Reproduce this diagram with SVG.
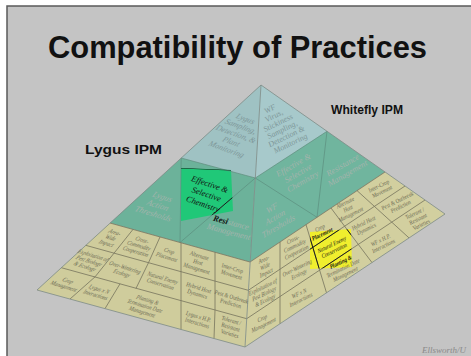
<svg xmlns="http://www.w3.org/2000/svg" width="471" height="356" viewBox="0 0 471 356">
<defs>
<style>
.slide{fill:#c4c4c4;stroke:#5a5a5a;stroke-width:1.5}
.hd{font-family:"Liberation Sans","DejaVu Sans",sans-serif;font-weight:bold;fill:#111}
.lbl{font-family:"Liberation Serif","Times New Roman",serif;font-style:italic;text-anchor:middle}
.ty{font-size:6.3px;fill:#6a6852}
.tg{font-size:8.5px;fill:#a2b4ac}
.tb{font-size:8px;fill:#7e9799}
.tk{fill:#111}
.bl{fill:#9fc2c3}.br{fill:#a7c9cb}
.gl{fill:#6cb29a}.gr{fill:#70b59e}
.yl{fill:#cfcc9c}.yr{fill:#d2cf9f}
.gridY{fill:none;stroke:#76745d;stroke-width:0.8}
.gridG{fill:none;stroke:#5c8e7e;stroke-width:0.7}
.edge{fill:none;stroke:#7d8c86;stroke-width:0.8}
.ink{fill:none;stroke:#111;stroke-width:0.9}
.credit{font-family:"Liberation Serif",serif;font-style:italic;font-size:9px;fill:#8a8a8a}
</style>
<clipPath id="clipHiG"><polygon points="181,168 231,170 233,211 181,221"/></clipPath>
<clipPath id="clipHiY"><polygon points="310,232 351,229 352,267 310,269"/></clipPath>
</defs>

<!-- slide -->
<rect x="0" y="0" width="471" height="356" fill="#ffffff"/>
<rect class="slide" x="7" y="6" width="470" height="360"/>

<!-- headings -->
<g id="title"><text class="hd" x="48" y="58" font-size="32" textLength="379" lengthAdjust="spacingAndGlyphs">Compatibility of Practices</text></g>
<g id="lygus-ipm"><text class="hd" x="85" y="153.5" font-size="13" textLength="77" lengthAdjust="spacingAndGlyphs">Lygus IPM</text></g>
<g id="whitefly-ipm"><text class="hd" x="331" y="114" font-size="12.5" textLength="72" lengthAdjust="spacingAndGlyphs">Whitefly IPM</text></g>

<!-- pyramid faces -->
<g id="faces">
<polygon class="bl" points="261,85 181.2,158 255.3,178"/>
<polygon class="br" points="261,85 255.3,178 327,131.3"/>
<polygon class="gl" points="181.2,158 255.3,178 250,262 110,223"/>
<polygon class="gr" points="255.3,178 327,131.3 385,172 250,262"/>
<polygon class="yl" points="110,223 250,262 245,347 37,290"/>
<polygon class="yr" points="250,262 385,172 445,214 245,347"/>
<!-- highlight patches -->
<polygon fill="#20c878" points="181,168 231,170 233,211 181,221"/>
<polygon fill="#f0ee2e" points="310,232 351,229 352,267 310,269"/>
</g>

<!-- dividing lines -->
<g id="connectors">
<g class="gridG">
<path d="M181.2,158 L180,242.5 M255.3,178 L180,242.5"/>
<path d="M327,131.3 L317,217.3 M255.3,178 L317,217.3"/>
<path d="M181.2,158 L255.3,178 L327,131.3"/>
</g>
<g class="gridY">
<path d="M110,223 L250,262 L385,172"/>
<path d="M85.7,245.3 L248.3,290.3 M61.3,267.7 L246.7,318.7"/>
<path d="M133,229.4 L114,253.2 L95,276.9 L70,299"/>
<path d="M160,237 L148.5,262.7 L136,288.4"/>
<path d="M120,283.8 L105,308.6"/>
<path d="M181,242.8 L181,329.5 M215,252.3 L215,310.3 L214,338.5"/>
<path d="M248.3,290.3 L405,186 M246.7,318.7 L425,200"/>
<path d="M280,242 L280,323.7"/>
<path d="M306,224.6 L312.8,247.3 L319.6,270.1 L326.5,292.8"/>
<path d="M331,208 L344.6,226.2 L358.3,244.4 L372,262.6"/>
<path d="M357,190.6 L374.4,206.4 L391.7,222.1 L409,237.9"/>
</g>
<g class="ink" clip-path="url(#clipHiG)">
<path d="M255.3,178 L180,242.5 M181,168 L231,170"/>
</g>
<g class="ink" clip-path="url(#clipHiY)">
<path d="M248.3,290.3 L405,186 M246.7,318.7 L425,200"/>
<path d="M306,224.6 L312.8,247.3 L319.6,270.1"/>
<path d="M331,208 L344.6,226.2 L358.3,244.4 L372,262.6"/>
</g>
<g class="edge">
<polygon points="261,85 37,290 245,347 445,214"/>
<path d="M261,85 L245,347"/>
</g>
</g>

<!-- top tier: monitoring -->
<g id="lygus-sampling"><text class="lbl tb" transform="translate(236,134) rotate(20) skewX(-12)" y="-15"><tspan x="0">Lygus</tspan><tspan x="0" dy="8.8">Sampling,</tspan><tspan x="0" dy="8.8">Detection, &amp;</tspan><tspan x="0" dy="8.8">Plant</tspan><tspan x="0" dy="8.8">Monitoring</tspan></text></g>
<g id="wf-sampling"><text class="lbl tb" transform="translate(280,126) rotate(-26) skewX(5)" y="-17.2"><tspan x="0">WF</tspan><tspan x="0" dy="8">Virus,</tspan><tspan x="0" dy="8">Stickiness</tspan><tspan x="0" dy="8">Sampling,</tspan><tspan x="0" dy="8">Detection &amp;</tspan><tspan x="0" dy="8">Monitoring</tspan></text></g>

<!-- middle tier: thresholds and chemistry -->
<g id="lygus-thresholds"><text class="lbl tg" transform="translate(158,205) rotate(17) skewX(-12)" y="-6.5"><tspan x="0">Lygus</tspan><tspan x="0" dy="9.5">Action</tspan><tspan x="0" dy="9.5">Thresholds</tspan></text></g>
<g id="chemistry-left"><text class="lbl tk" font-size="8.5" transform="translate(206.5,194) rotate(19)" y="-7.5"><tspan x="0">Effective &amp;</tspan><tspan x="0" dy="10.5">Selective</tspan><tspan x="0" dy="10.5">Chemistry</tspan></text></g>
<g id="resistance-left"><text class="lbl tg" transform="translate(230,227) rotate(15)" y="-1.8"><tspan x="0"><tspan class="tk" font-weight="bold">Resi</tspan>stance</tspan><tspan x="0" dy="9.5">Management</tspan></text></g>
<g id="wf-thresholds"><text class="lbl tg" transform="translate(275,217) rotate(-30) skewX(-10)" y="-6.5"><tspan x="0">WF</tspan><tspan x="0" dy="9.5">Action</tspan><tspan x="0" dy="9.5">Thresholds</tspan></text></g>
<g id="chemistry-right"><text class="lbl tg" transform="translate(298,173) rotate(-30)" y="-6.5"><tspan x="0">Effective &amp;</tspan><tspan x="0" dy="9.5">Selective</tspan><tspan x="0" dy="9.5">Chemistry</tspan></text></g>
<g id="resistance-right"><text class="lbl tg" transform="translate(345,169) rotate(-30)" y="-1.8"><tspan x="0">Resistance</tspan><tspan x="0" dy="9.5">Management</tspan></text></g>

<!-- base tier, Lygus side -->
<g id="l-areawide"><text class="lbl ty" transform="translate(110.7,237.7) rotate(17) skewX(-20) scale(.82,1)" y="-4.4"><tspan x="0">Area-</tspan><tspan x="0" dy="6.5">Wide</tspan><tspan x="0" dy="6.5">Impact</tspan></text></g>
<g id="l-crosscommodity"><text class="lbl ty" transform="translate(139,245.6) rotate(17) skewX(-12) scale(.82,1)" y="-4.4"><tspan x="0">Cross-</tspan><tspan x="0" dy="6.5">Commodity</tspan><tspan x="0" dy="6.5">Cooperation</tspan></text></g>
<g id="l-cropplacement"><text class="lbl ty" transform="translate(168,254) rotate(17) skewX(-5) scale(.82,1)" y="-1.2"><tspan x="0">Crop</tspan><tspan x="0" dy="6.5">Placement</tspan></text></g>
<g id="l-althost"><text class="lbl ty" transform="translate(198,262) rotate(17) skewX(5) scale(.82,1)" y="-4.4"><tspan x="0">Alternate</tspan><tspan x="0" dy="6.5">Host</tspan><tspan x="0" dy="6.5">Management</tspan></text></g>
<g id="l-intercrop"><text class="lbl ty" transform="translate(232,271.4) rotate(17) skewX(10) scale(.82,1)" y="-1.2"><tspan x="0">Inter-Crop</tspan><tspan x="0" dy="6.5">Movement</tspan></text></g>
<g id="l-exploitation"><text class="lbl ty" transform="translate(89,260.8) rotate(17) skewX(-20) scale(.82,1)" y="-4.4"><tspan x="0">Exploitation of</tspan><tspan x="0" dy="6.5">Pest Biology</tspan><tspan x="0" dy="6.5">&amp; Ecology</tspan></text></g>
<g id="l-overwintering"><text class="lbl ty" transform="translate(123.4,270.3) rotate(17) skewX(-12) scale(.82,1)" y="-1.2"><tspan x="0">Over-Wintering</tspan><tspan x="0" dy="6.5">Ecology</tspan></text></g>
<g id="l-naturalenemy"><text class="lbl ty" transform="translate(161.6,280.9) rotate(17) skewX(-5) scale(.82,1)" y="-1.2"><tspan x="0">Natural Enemy</tspan><tspan x="0" dy="6.5">Conservation</tspan></text></g>
<g id="l-hybridhost"><text class="lbl ty" transform="translate(198,290.9) rotate(17) skewX(5) scale(.82,1)" y="-1.2"><tspan x="0">Hybrid Host</tspan><tspan x="0" dy="6.5">Dynamics</tspan></text></g>
<g id="l-prediction"><text class="lbl ty" transform="translate(231,300) rotate(17) skewX(10) scale(.82,1)" y="-1.2"><tspan x="0">Pest &amp; Outbreak</tspan><tspan x="0" dy="6.5">Prediction</tspan></text></g>
<g id="l-cropmgmt"><text class="lbl ty" transform="translate(66,283.4) rotate(17) skewX(-20) scale(.82,1)" y="-1.2"><tspan x="0">Crop</tspan><tspan x="0" dy="6.5">Management</tspan></text></g>
<g id="l-lygusxn"><text class="lbl ty" transform="translate(97.5,292) rotate(17) skewX(-15) scale(.82,1)" y="-1.2"><tspan x="0">Lygus x N</tspan><tspan x="0" dy="6.5">Interactions</tspan></text></g>
<g id="l-planting"><text class="lbl ty" transform="translate(145,305.8) rotate(17) skewX(-8) scale(.82,1)" y="-4.4"><tspan x="0">Planting &amp;</tspan><tspan x="0" dy="6.5">Termination Date</tspan><tspan x="0" dy="6.5">Management</tspan></text></g>
<g id="l-lygusxhp"><text class="lbl ty" transform="translate(197.8,319.7) rotate(17) skewX(5) scale(.82,1)" y="-1.2"><tspan x="0">Lygus x H.P.</tspan><tspan x="0" dy="6.5">Interactions</tspan></text></g>
<g id="l-tolerant"><text class="lbl ty" transform="translate(230.5,327) rotate(17) skewX(10) scale(.82,1)" y="-4.4"><tspan x="0">Tolerant /</tspan><tspan x="0" dy="6.5">Resistant</tspan><tspan x="0" dy="6.5">Varieties</tspan></text></g>

<!-- base tier, whitefly side -->
<g id="w-areawide"><text class="lbl ty" transform="translate(265,266) rotate(-26) skewX(-15) scale(.82,1)" y="-4.4"><tspan x="0">Area-</tspan><tspan x="0" dy="6.5">Wide</tspan><tspan x="0" dy="6.5">Impact</tspan></text></g>
<g id="w-crosscommodity"><text class="lbl ty" transform="translate(294.7,245.8) rotate(-26) skewX(-10) scale(.82,1)" y="-4.4"><tspan x="0">Cross-</tspan><tspan x="0" dy="6.5">Commodity</tspan><tspan x="0" dy="6.5">Cooperation</tspan></text></g>
<g id="w-cropplacement"><text class="lbl ty" transform="translate(321,231) rotate(-26) skewX(-5) scale(.82,1)" y="-1.2"><tspan x="0">Crop</tspan><tspan x="0" dy="6.5" class="tk" font-weight="bold">Placement</tspan></text></g>
<g id="w-althost"><text class="lbl ty" transform="translate(348,208.5) rotate(-26) scale(.82,1)" y="-4.4"><tspan x="0">Alternate</tspan><tspan x="0" dy="6.5">Host</tspan><tspan x="0" dy="6.5">Management</tspan></text></g>
<g id="w-intercrop"><text class="lbl ty" transform="translate(380.4,188.8) rotate(-26) skewX(5) scale(.82,1)" y="-1.2"><tspan x="0">Inter-Crop</tspan><tspan x="0" dy="6.5">Movement</tspan></text></g>
<g id="w-exploitation"><text class="lbl ty" transform="translate(264,293.7) rotate(-26) skewX(-15) scale(.82,1)" y="-4.4"><tspan x="0">Exploitation of</tspan><tspan x="0" dy="6.5">Pest Biology</tspan><tspan x="0" dy="6.5">&amp; Ecology</tspan></text></g>
<g id="w-overwintering"><text class="lbl ty" transform="translate(298,271) rotate(-26) skewX(-10) scale(.82,1)" y="-1.2"><tspan x="0">Over-Wintering</tspan><tspan x="0" dy="6.5">Ecology</tspan></text></g>
<g id="w-naturalenemy"><text class="lbl ty tk" transform="translate(333,247.5) rotate(-26) skewX(-5) scale(.82,1)" y="-1.2"><tspan x="0">Natural Enemy</tspan><tspan x="0" dy="6.5">Conservation</tspan></text></g>
<g id="w-hybridhost"><text class="lbl ty" transform="translate(365,226) rotate(-26) scale(.82,1)" y="-1.2"><tspan x="0">Hybrid Host</tspan><tspan x="0" dy="6.5">Dynamics</tspan></text></g>
<g id="w-prediction"><text class="lbl ty" transform="translate(399,203.6) rotate(-26) skewX(5) scale(.82,1)" y="-1.2"><tspan x="0">Pest &amp; Outbreak</tspan><tspan x="0" dy="6.5">Prediction</tspan></text></g>
<g id="w-cropmgmt"><text class="lbl ty" transform="translate(263,321.5) rotate(-26) skewX(-15) scale(.82,1)" y="-1.2"><tspan x="0">Crop</tspan><tspan x="0" dy="6.5">Management</tspan></text></g>
<g id="w-wfxn"><text class="lbl ty" transform="translate(300,296.5) rotate(-26) skewX(-10) scale(.82,1)" y="-1.2"><tspan x="0">WF x N</tspan><tspan x="0" dy="6.5">Interactions</tspan></text></g>
<g id="w-planting"><text class="lbl ty" transform="translate(343,268) rotate(-26) skewX(-5) scale(.82,1)" y="-4.4"><tspan x="0" class="tk" font-weight="bold">Planting &amp;</tspan><tspan x="0" dy="6.5">Termination Date</tspan><tspan x="0" dy="6.5">Management</tspan></text></g>
<g id="w-wfxhp"><text class="lbl ty" transform="translate(382,243) rotate(-26) scale(.82,1)" y="-1.2"><tspan x="0">WF x H.P.</tspan><tspan x="0" dy="6.5">Interactions</tspan></text></g>
<g id="w-tolerant"><text class="lbl ty" transform="translate(418,219) rotate(-26) skewX(5) scale(.82,1)" y="-4.4"><tspan x="0">Tolerant /</tspan><tspan x="0" dy="6.5">Resistant</tspan><tspan x="0" dy="6.5">Varieties</tspan></text></g>

<!-- credit -->
<g id="credit"><text class="credit" x="422" y="353">Ellsworth/U</text></g>
</svg>
